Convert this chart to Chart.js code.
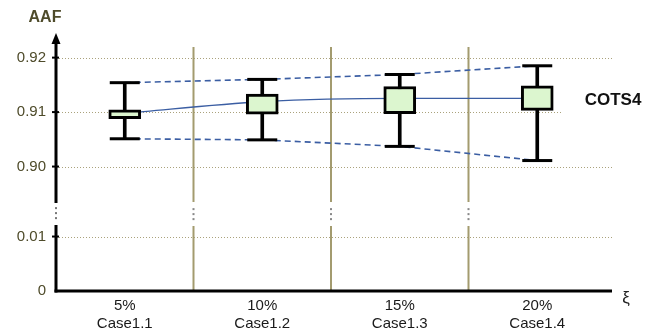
<!DOCTYPE html>
<html>
<head>
<meta charset="utf-8">
<script src="https://cdn.jsdelivr.net/npm/chart.js@4/dist/chart.umd.min.js"></script>
<style>
  html, body { margin: 0; padding: 0; background: #fff; }
  #wrap { width: 656px; height: 334px; }
</style>
</head>
<body>
<div id="wrap"><canvas id="c" width="656" height="334"></canvas></div>
<script>
// Noise ratio and case per group
const ratios = ['5%', '10%', '15%', '20%'];
const cases = ['Case1.1', 'Case1.2', 'Case1.3', 'Case1.4'];

// AAF distribution per case
const whiskerHigh = [0.9154, 0.9160, 0.9169, 0.9185];
const boxHigh     = [0.9104, 0.9133, 0.9147, 0.9148];
const boxLow      = [0.9088, 0.9096, 0.9097, 0.9103];
const whiskerLow  = [0.9051, 0.9049, 0.9037, 0.9011];
const meanAAF     = [0.9098, 0.9119, 0.9125, 0.9125];

// Value axis ticks
const yTickValues = [0, 0.01, 0.90, 0.91, 0.92];
const yTickLabels = ['0', '0.01', '0.90', '0.91', '0.92'];

const seriesName = 'COTS4';
const yTitle = 'AAF';
const xTitle = 'ξ';

// Broken value axis: 0..0.01 below the break, 0.90.. above it
const LOW_TOP = 0.01, HIGH_BOTTOM = 0.90, GAP = 1.285, BREAK_AT = 1.43;
function toAxis(v) {
  return v <= LOW_TOP ? v * 100 : 1 + GAP + (v - HIGH_BOTTOM) * 100;
}

const BLUE = '#3b5ea3';
const OLIVE = '#4e4b2a';

const decor = {
  id: 'decor',
  beforeDatasetsDraw(chart) {
    const { ctx, chartArea: a, scales: { x, y } } = chart;
    ctx.save();
    // dotted horizontal grid
    ctx.strokeStyle = '#aaa27c';
    ctx.lineWidth = 1;
    ctx.setLineDash([1, 2]);
    yTickValues.forEach(v => {
      if (v === 0) return;
      const py = Math.round(y.getPixelForValue(toAxis(v))) + 0.5;
      ctx.beginPath();
      ctx.moveTo(a.left + 3, py);
      ctx.lineTo(a.right + 6, py);
      ctx.stroke();
    });
    ctx.setLineDash([]);

    // group separators with a break
    const by = y.getPixelForValue(BREAK_AT);
    ctx.strokeStyle = '#a39b6f';
    ctx.lineWidth = 2;
    for (let i = 0; i < ratios.length - 1; i++) {
      const px = (x.getPixelForValue(i) + x.getPixelForValue(i + 1)) / 2;
      ctx.beginPath();
      ctx.moveTo(px, a.top);
      ctx.lineTo(px, by - 11);
      ctx.moveTo(px, by + 13);
      ctx.lineTo(px, a.bottom);
      ctx.stroke();
      ctx.fillStyle = '#888';
      [-4, 1, 6].forEach(d => ctx.fillRect(px - 1, by + d - 1, 2, 2));
    }
    ctx.restore();
  },
  afterDatasetsDraw(chart) {
    const { ctx, chartArea: a, scales: { y } } = chart;
    const ax = a.left;
    const by = y.getPixelForValue(BREAK_AT);
    ctx.save();
    ctx.strokeStyle = '#000';
    ctx.fillStyle = '#000';

    // value axis with break and arrow
    ctx.lineWidth = 3;
    ctx.beginPath();
    ctx.moveTo(ax, 42);
    ctx.lineTo(ax, by - 10);
    ctx.moveTo(ax, by + 12);
    ctx.lineTo(ax, a.bottom + 1.5);
    ctx.stroke();
    ctx.beginPath();
    ctx.moveTo(ax, 33);
    ctx.lineTo(ax - 4.5, 44);
    ctx.lineTo(ax + 4.5, 44);
    ctx.closePath();
    ctx.fill();
    ctx.fillStyle = '#777';
    [-5, 0, 5].forEach(d => ctx.fillRect(ax - 1, by + d - 1, 2, 2));

    // tick marks
    ctx.lineWidth = 2;
    yTickValues.forEach(v => {
      if (v === 0) return;
      const py = y.getPixelForValue(toAxis(v));
      ctx.beginPath();
      ctx.moveTo(ax - 4, py);
      ctx.lineTo(ax + 3, py);
      ctx.stroke();
    });

    // category axis
    ctx.lineWidth = 3;
    ctx.beginPath();
    ctx.moveTo(ax - 1.5, a.bottom);
    ctx.lineTo(a.right + 6, a.bottom);
    ctx.stroke();

    // titles
    ctx.textAlign = 'center';
    ctx.textBaseline = 'middle';
    ctx.fillStyle = OLIVE;
    ctx.font = 'bold 16px "Liberation Sans", Arial, sans-serif';
    ctx.fillText(yTitle, 45, 18);
    ctx.fillStyle = '#222';
    ctx.font = '17px "Liberation Sans", Arial, sans-serif';
    ctx.fillText(xTitle, 626, 298);

    // series label
    ctx.fillStyle = '#fff';
    ctx.fillRect(561, 84, 95, 33);
    ctx.fillStyle = '#111';
    ctx.font = 'bold 17px "Liberation Sans", Arial, sans-serif';
    ctx.fillText(seriesName, 613, 100);
    ctx.restore();
  }
};

Chart.defaults.font.family = '"Liberation Sans", Arial, Helvetica, sans-serif';

const labels = ratios.map((r, i) => [r, cases[i]]);

new Chart(document.getElementById('c'), {
  type: 'bar',
  data: {
    labels,
    datasets: [
      { type: 'line', data: meanAAF.map(toAxis), borderColor: BLUE, borderWidth: 1.3,
        pointRadius: 0, cubicInterpolationMode: 'monotone', order: 6 },
      { type: 'line', data: whiskerHigh.map(toAxis), borderColor: BLUE, borderWidth: 1.6,
        borderDash: [6, 4], pointRadius: 0, order: 6 },
      { type: 'line', data: whiskerLow.map(toAxis), borderColor: BLUE, borderWidth: 1.6,
        borderDash: [6, 4], pointRadius: 0, order: 6 },
      { type: 'bar', data: whiskerLow.map((v, i) => [toAxis(v), toAxis(whiskerHigh[i])]),
        backgroundColor: '#000', barThickness: 3, grouped: false, order: 5 },
      { type: 'bar', data: boxLow.map((v, i) => [toAxis(v), toAxis(boxHigh[i])]),
        backgroundColor: '#dcf6cf', borderColor: '#000', borderWidth: 3, borderSkipped: false,
        barThickness: 32, grouped: false, order: 4 },
      { type: 'line', data: whiskerHigh.map(toAxis), showLine: false, pointStyle: 'line',
        pointRadius: 15, pointBorderWidth: 3, pointBorderColor: '#000', order: 3 },
      { type: 'line', data: whiskerLow.map(toAxis), showLine: false, pointStyle: 'line',
        pointRadius: 15, pointBorderWidth: 3, pointBorderColor: '#000', order: 3 }
    ]
  },
  options: {
    responsive: false,
    animation: false,
    events: [],
    layout: { padding: { left: 0, right: 50, top: 47, bottom: 0 } },
    plugins: { legend: { display: false }, tooltip: { enabled: false } },
    scales: {
      x: {
        grid: { display: false, drawTicks: false },
        border: { display: false },
        ticks: { color: '#1a1a1a', font: { size: 15 }, padding: 6, maxRotation: 0 },
        afterFit(s) { s.height = 43; }
      },
      y: {
        min: 0, max: 4.48,
        grid: { display: false, drawTicks: false },
        border: { display: false },
        afterBuildTicks(s) { s.ticks = yTickValues.map(v => ({ value: toAxis(v) })); },
        ticks: {
          color: OLIVE, font: { size: 15 }, padding: 10,
          callback(val) {
            const i = yTickValues.findIndex(v => Math.abs(toAxis(v) - val) < 1e-6);
            return i >= 0 ? yTickLabels[i] : '';
          }
        },
        afterFit(s) { s.width = 56; }
      }
    }
  },
  plugins: [decor]
});
</script>
</body>
</html>
